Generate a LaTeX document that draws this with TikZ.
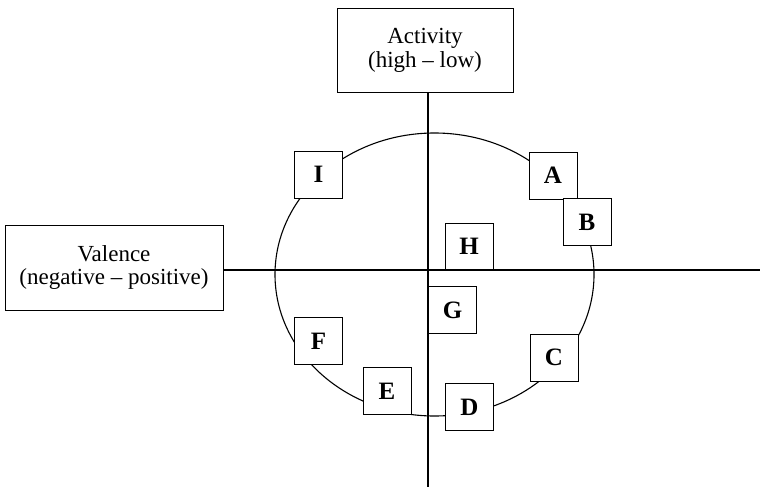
\documentclass[tikz,border=0pt]{standalone}
\usepackage{fontspec}
\setmainfont{Liberation Serif}
\begin{document}
\begin{tikzpicture}[x=1pt,y=-1pt,
  axisbox/.style={draw, line width=1pt, fill=white, inner sep=0pt, align=center,
    font=\fontsize{23}{24}\selectfont},
  letterbox/.style={draw, line width=1pt, fill=white, inner sep=0pt,
    minimum width=48pt, minimum height=47pt, font=\fontsize{25}{30}\selectfont\bfseries},
  axisline/.style={line width=2.4pt},
  ring/.style={line width=1.1pt}]
\useasboundingbox (0,0) rectangle (760,487);
\coordinate (o) at (428,270);
\coordinate (bot) at (428,487);
\coordinate (rgt) at (760,270);
% circle
\draw[ring] (434.5,274.5) ellipse [x radius=159.5pt, y radius=141.5pt];
% axis boxes
\node[axisbox, minimum width=176pt, minimum height=83pt] (act) at (425,50.5) {Activity\\(high -- low)};
\node[axisbox, minimum width=218pt, minimum height=85pt] (val) at (114,267.5) {Valence\\(negative -- positive)};
% letter boxes
\node[letterbox] (A) at (553,175.5) {A};
\node[letterbox] (B) at (587,222) {B};
\node[letterbox] (C) at (554,357.5) {C};
\node[letterbox] (D) at (469.5,407) {D};
\node[letterbox] (E) at (387,391) {E};
\node[letterbox] (F) at (318.5,341) {F};
\node[letterbox] (G) at (452.5,310) {G};
\node[letterbox] (H) at (469,246.5) {H};
\node[letterbox] (I) at (318.5,174.5) {I};
% axes
\draw[axisline] (act.south -| o) -- (bot);
\draw[axisline] (val.east |- o) -- (rgt);
\end{tikzpicture}
\end{document}
